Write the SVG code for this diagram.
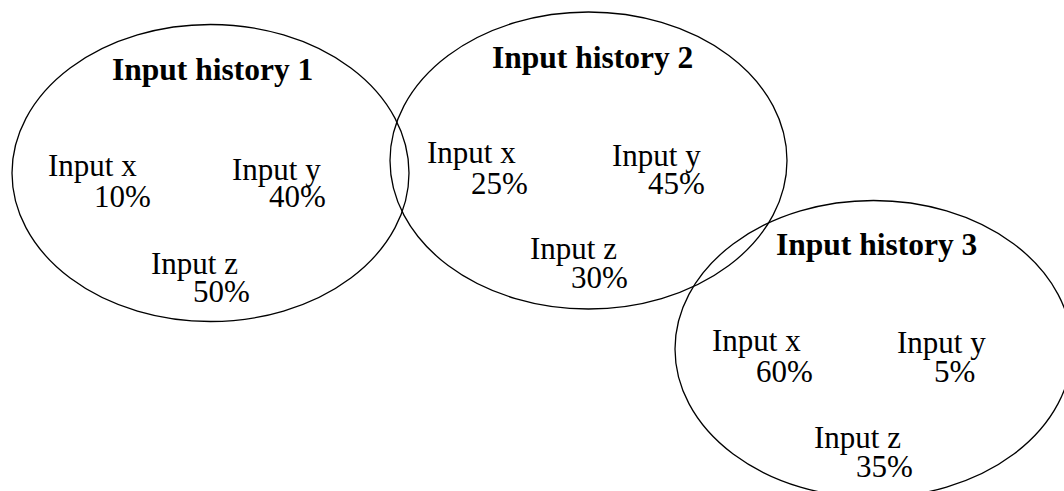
<svg xmlns="http://www.w3.org/2000/svg" width="1064" height="491" viewBox="0 0 1064 491">
  <style>
    .set { fill: none; stroke: #000; stroke-width: 1.3; }
    .title { font-family: "Liberation Serif", "Times New Roman", serif; font-weight: bold; font-size: 31.5px; fill: #000; }
    .item { font-family: "Liberation Serif", "Times New Roman", serif; font-size: 31px; fill: #000; }
  </style>
  <rect width="1064" height="491" fill="#fff"/>

  <!-- History sets -->
  <g id="history1">
    <ellipse class="set" cx="210.5" cy="173" rx="198.5" ry="148.5"/>
    <text class="title" x="112" y="80">Input history 1</text>
    <text class="item" x="48" y="176">Input x</text>
    <text class="item" x="94" y="207">10%</text>
    <text class="item" x="232" y="180">Input y</text>
    <text class="item" x="269" y="207">40%</text>
    <text class="item" x="151" y="274">Input z</text>
    <text class="item" x="193" y="302">50%</text>
  </g>

  <g id="history2">
    <ellipse class="set" cx="588.5" cy="160.5" rx="198.5" ry="148.5"/>
    <text class="title" x="492" y="68">Input history 2</text>
    <text class="item" x="427" y="163">Input x</text>
    <text class="item" x="471" y="194">25%</text>
    <text class="item" x="612" y="166">Input y</text>
    <text class="item" x="648" y="194">45%</text>
    <text class="item" x="530" y="259">Input z</text>
    <text class="item" x="571" y="288">30%</text>
  </g>

  <g id="history3">
    <ellipse class="set" cx="873.5" cy="349" rx="198.5" ry="148.5"/>
    <text class="title" x="776" y="255">Input history 3</text>
    <text class="item" x="712" y="351">Input x</text>
    <text class="item" x="756" y="382">60%</text>
    <text class="item" x="897" y="353">Input y</text>
    <text class="item" x="934" y="382">5%</text>
    <text class="item" x="814" y="448">Input z</text>
    <text class="item" x="856" y="477">35%</text>
  </g>

  <g id="connectors"></g>
</svg>
